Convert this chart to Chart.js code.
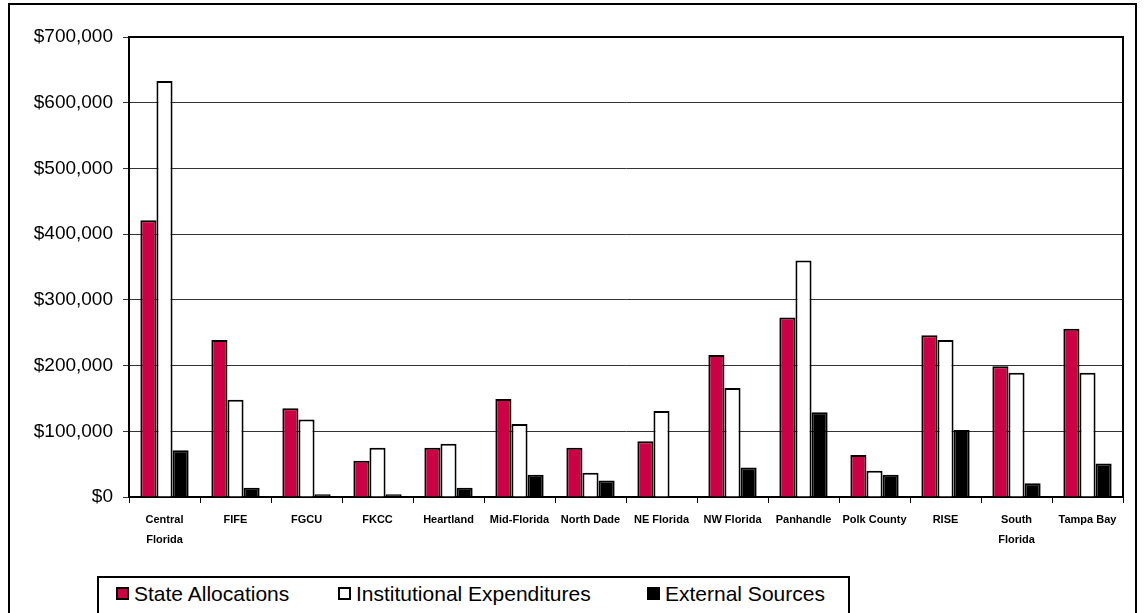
<!DOCTYPE html>
<html lang="en">
<head>
    <meta charset="UTF-8">
    <title>Florida Funding by Consortium</title>
    <script src="https://cdn.jsdelivr.net/npm/chart.js"></script>
    <style>
        body { margin: 0; background: #fff; font-family: "Liberation Sans", Arial, sans-serif; }
        #wrap { position: relative; width: 1147px; height: 613px; overflow: hidden; }
        #frame { position: absolute; left: 8px; top: 3px; width: 1129px; height: 640px; border: 2px solid #000; box-sizing: border-box; }
        canvas { position: absolute; left: 0; top: 0; }
        #legend { position: absolute; left: 97px; top: 576px; width: 753px; height: 60px; border: 2px solid #000; box-sizing: border-box; background: #fff; }
        .item { position: absolute; top: 4px; font-size: 21px; line-height: 24px; color: #000; white-space: nowrap; }
        .sw { display: inline-block; width: 13px; height: 13px; border: 2px solid #000; box-sizing: border-box; margin-right: 5px; vertical-align: 1px; }
    </style>
</head>
<body>
<div id="wrap">
    <div id="frame"></div>
    <canvas id="barChart" width="1147" height="613"></canvas>
    <div id="legend"></div>
</div>
<script>
    const categorias = [
        ['Central', 'Florida'], 'FIFE', 'FGCU', 'FKCC', 'Heartland', 'Mid-Florida', 'North Dade',
        'NE Florida', 'NW Florida', 'Panhandle', 'Polk County', 'RISE', ['South', 'Florida'], 'Tampa Bay'
    ];
    const stateAllocations = [421000, 239000, 135000, 55000, 75000, 149000, 75000, 85000, 216000, 273000, 64000, 246000, 199000, 256000];
    const institutionalExpenditures = [633000, 148000, 118000, 75000, 81000, 111000, 37000, 131000, 166000, 360000, 40000, 239000, 189000, 189000];
    const externalSources = [71000, 14000, 4000, 4000, 14000, 34000, 25000, 0, 45000, 129000, 34000, 102000, 21000, 51000];
    const yTicks = [0, 100000, 200000, 300000, 400000, 500000, 600000, 700000];

    const cores = ['#cc0044', '#ffffff', '#000000'];
    const legendLeft = [17, 239, 548];

    const plotBorder = {
        id: 'plotBorder',
        afterDraw(chart) {
            const a = chart.chartArea;
            const ctx = chart.ctx;
            ctx.save();
            ctx.strokeStyle = '#000';
            ctx.lineWidth = 2;
            ctx.beginPath();
            ctx.moveTo(a.left, a.top);
            ctx.lineTo(a.right, a.top);
            ctx.lineTo(a.right, a.bottom);
            ctx.stroke();
            ctx.restore();
        }
    };

    const ctxBar = document.getElementById('barChart').getContext('2d');
    const barChart = new Chart(ctxBar, {
        type: 'bar',
        data: {
            labels: categorias,
            datasets: [
                { label: 'State Allocations', data: stateAllocations, backgroundColor: cores[0] },
                { label: 'Institutional Expenditures', data: institutionalExpenditures, backgroundColor: cores[1] },
                { label: 'External Sources', data: externalSources, backgroundColor: cores[2] }
            ]
        },
        options: {
            responsive: false,
            animation: false,
            layout: { padding: { left: 0, top: 37, right: 24, bottom: 0 } },
            datasets: {
                bar: {
                    borderColor: '#000',
                    borderWidth: 2,
                    categoryPercentage: 0.68,
                    barPercentage: 1
                }
            },
            plugins: {
                legend: { display: false },
                tooltip: { enabled: false }
            },
            scales: {
                x: {
                    afterFit(scale) { scale.height = 116; },
                    border: { color: '#000', width: 2 },
                    grid: { drawOnChartArea: false, color: '#000', tickLength: 6, offset: true },
                    ticks: {
                        color: '#000',
                        padding: 7,
                        maxRotation: 0,
                        autoSkip: false,
                        font: { family: 'Liberation Sans', size: 11, weight: 'bold', lineHeight: 1.8 }
                    }
                },
                y: {
                    min: 0,
                    max: 700000,
                    afterFit(scale) { scale.width = 129; },
                    afterBuildTicks(scale) { scale.ticks = yTicks.map(v => ({ value: v })); },
                    border: { color: '#000', width: 2 },
                    grid: {
                        color: '#333',
                        lineWidth: 1,
                        tickLength: 6
                    },
                    ticks: {
                        color: '#000',
                        padding: 10,
                        font: { family: 'Liberation Sans', size: 19 },
                        callback: v => '$' + v.toLocaleString('en-US')
                    }
                }
            }
        },
        plugins: [plotBorder]
    });

    const legend = document.getElementById('legend');
    barChart.data.datasets.forEach((ds, i) => {
        const item = document.createElement('div');
        item.className = 'item';
        item.style.left = legendLeft[i] + 'px';
        const sw = document.createElement('span');
        sw.className = 'sw';
        sw.style.background = ds.backgroundColor;
        item.appendChild(sw);
        item.appendChild(document.createTextNode(ds.label));
        legend.appendChild(item);
    });
</script>
</body>
</html>
